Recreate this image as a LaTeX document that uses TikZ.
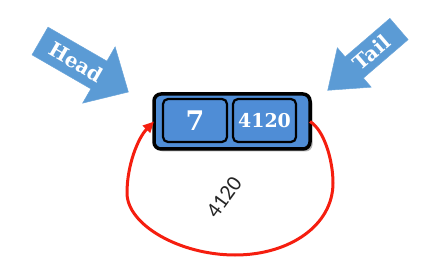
\documentclass[tikz,border=0pt]{standalone}
\usepackage{fontspec}
\usetikzlibrary{arrows.meta,shadows,calc}
\newfontfamily\slabfont{DejaVu Serif}
\newfontfamily\labelfont{Carlito}
\definecolor{cellblue}{RGB}{79,141,214}
\definecolor{arrowblue}{RGB}{91,155,213}
\definecolor{linkred}{RGB}{245,30,15}
\tikzset{
  listbox/.style={draw=black, line width=3.5pt, fill=cellblue, rounded corners=7pt,
    minimum width=156pt, minimum height=55pt, inner sep=0pt, outer sep=0pt,
    drop shadow={shadow xshift=2.5pt, shadow yshift=-2.5pt, opacity=0.3, fill=black}},
  cell/.style={draw=black, line width=2.2pt, fill=cellblue, rounded corners=5pt,
    minimum height=43pt, inner sep=0pt, text=white, font=\slabfont\bfseries},
  pointer/.style={fill=arrowblue, draw=arrowblue!90!white, line width=0.5pt},
  pointertext/.style={text=white, font=\slabfont\bfseries\fontsize{20}{20}\selectfont, inner sep=0pt},
  link/.style={draw=linkred, line width=3pt, -{Triangle[length=11pt,width=10pt]}},
  linklabel/.style={font=\labelfont\fontsize{22}{22}\selectfont, text=black!85, inner sep=0pt}
}
\begin{document}
\begin{tikzpicture}[x=1pt,y=1pt]
\useasboundingbox (0,0) rectangle (442,260);

% the list node with its two fields
\node[listbox] (box) at (232,138.5) {};
\node[cell, minimum width=64pt, font=\slabfont\bfseries\fontsize{27}{27}\selectfont] (data) at (195,139.5) {7};
\node[cell, minimum width=63pt, font=\slabfont\bfseries\fontsize{19}{19}\selectfont] (next) at (264.5,139.5) {4120};

% Head pointer
\begin{scope}[shift={(40,219)}, rotate=-30]
  \fill[pointer] (0,16) -- (68,16) -- (68,32.5) -- (102,0) -- (68,-32.5) -- (68,-16) -- (0,-16) -- cycle;
\end{scope}
\node[pointertext, rotate=-30] (head) at ($(40,219)+(-30:42)$) {Head};

% Tail pointer
\begin{scope}[shift={(399,231)}, rotate=220.7]
  \fill[pointer] (0,14) -- (59,14) -- (59,26) -- (94,0) -- (59,-26) -- (59,-14) -- (0,-14) -- cycle;
\end{scope}
\node[pointertext, rotate=40.7] (tail) at ($(399,231)+(220.7:36)$) {Tail};

% link from the next field back to the node
\draw[link] (box.east) .. controls (324,130) and (333,100) .. (333,77)
  .. controls (333,35) and (290,5) .. (235,5)
  .. controls (180,5) and (127,35) .. (127,67)
  .. controls (127,95) and (138,122) .. (box.west);
\node[linklabel, rotate=54] (addr) at (224,63) {4120};
\end{tikzpicture}
\end{document}
